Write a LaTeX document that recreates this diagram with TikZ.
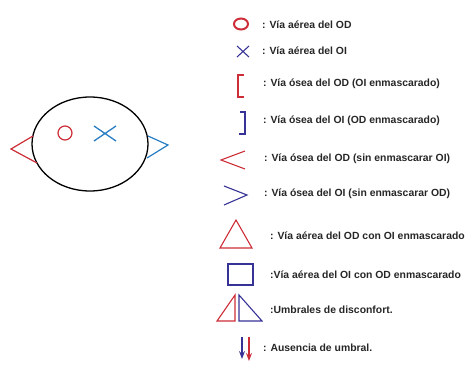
\documentclass[tikz,border=0pt]{standalone}
\usepackage{fontspec}
\setmainfont{Liberation Sans}
\usepackage{xcolor}
\usetikzlibrary{arrows.meta}

\definecolor{odred}{RGB}{205,45,55}
\definecolor{oiblue}{RGB}{55,50,150}
\definecolor{skyblue}{RGB}{40,125,195}

\begin{document}
\begin{tikzpicture}[x=1pt, y=-1pt, >=Stealth,
    legtext/.style={anchor=west, inner sep=0pt, font=\bfseries\fontsize{10.4}{12}\selectfont, text=black!85},
    odline/.style={odred, line width=1.1pt},
    oiline/.style={oiblue, line width=1.1pt}]
  \useasboundingbox (0,0) rectangle (466,372);
  % audiogram head
  \draw[line width=1.3pt] (90,144) ellipse (58 and 47);
  \draw[odred, line width=1.2pt] (65,133) circle (7);
  \draw[skyblue, line width=1.3pt] (94,126) -- (116,141) (94,141) -- (116,126);
  \draw[odred, line width=1.2pt] (33,136) -- (11,149) -- (37,163);
  \draw[skyblue, line width=1.2pt] (148,136) -- (168,145) -- (147,158);
  % legend symbols
  \draw[odred, line width=2pt] (241,24) ellipse (7 and 5.5);
  \draw[oiline] (237,46) -- (249,57) (237,57) -- (249,46);
  \draw[odline] (244,75) -- (238,75) -- (238,97) -- (244,97);
  \draw[oiline] (240,112) -- (245,112) -- (245,134) -- (239,134);
  \draw[odline] (245,151) -- (221,160) -- (245,169);
  \draw[oiline] (224,186) -- (247,195) -- (224,205);
  \draw[odline] (220,248) -- (236,220) -- (252,248) -- cycle;
  \draw[oiblue, line width=1.4pt] (228,264) rectangle (253,285);
  \draw[odline] (217,321) -- (235,321) -- (235,295) -- cycle;
  \draw[oiline] (239,295) -- (239,321) -- (262,321) -- cycle;
  \draw[oiline,->] (242,337) -- (242,359);
  \draw[odline,->] (249,337) -- (249,361);
  % legend texts
  \node[legtext] (tAirOD) at (262,25) {: Vía aérea del OD};
  \node[legtext] (tAirOI) at (262,51) {: Vía aérea del OI};
  \node[legtext] (tBoneOD) at (263,84) {: Vía ósea del OD (OI enmascarado)};
  \node[legtext] (tBoneOI) at (263,121) {: Vía ósea del OI (OD enmascarado)};
  \node[legtext] (tBoneODs) at (264,159) {: Vía ósea del OD (sin enmascarar OI)};
  \node[legtext] (tBoneOIs) at (264,194) {: Vía ósea del OI (sin enmascarar OD)};
  \node[legtext] (tAirODm) at (270,236) {: Vía aérea del OD con OI enmascarado};
  \node[legtext] (tAirOIm) at (270,275) {:Vía aérea del OI con OD enmascarado};
  \node[legtext] (tUmbral) at (270,310) {:Umbrales de disconfort.};
  \node[legtext] (tAusen) at (263,348) {: Ausencia de umbral.};
\end{tikzpicture}
\end{document}
